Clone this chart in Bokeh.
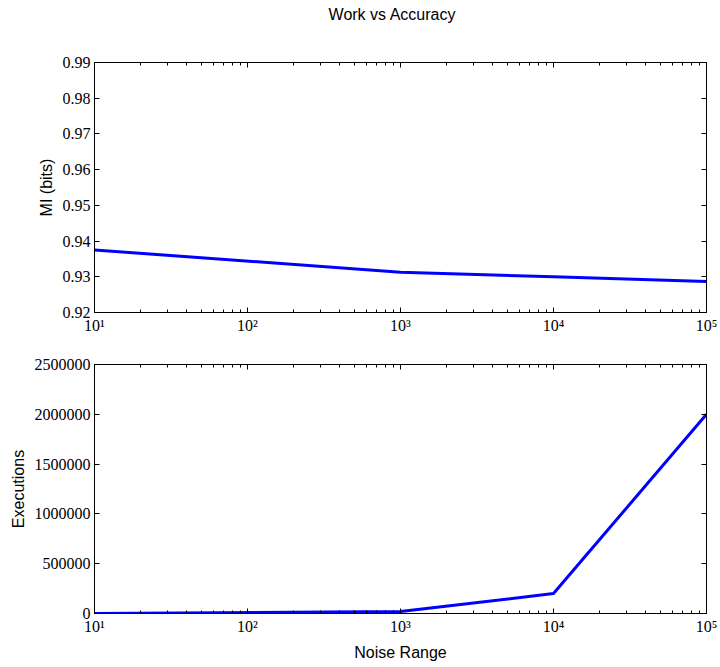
from bokeh.plotting import figure
from bokeh.models import Range1d, LogAxis, LinearAxis, FixedTicker, BasicTickFormatter, Div
from bokeh.layouts import column
from bokeh.embed import file_html
from bokeh.resources import INLINE

# ---- data ----
noise_range = [10, 1000, 10000, 100000]
mi_bits = [0.9375, 0.9313, 0.9300, 0.9287]
executions = [200, 20000, 200000, 2000000]

x_ticks = [10, 100, 1000, 10000, 100000]
x_tick_labels = ["10\u00b9", "10\u00b2", "10\u00b3", "10\u2074", "10\u2075"]
x_minor = [k * 10 ** e for e in range(1, 5) for k in range(2, 10)]
mi_ticks = [0.92, 0.93, 0.94, 0.95, 0.96, 0.97, 0.98, 0.99]
exec_ticks = [0, 500000, 1000000, 1500000, 2000000, 2500000]

SERIF = "Liberation Serif"
SANS = "Liberation Sans"
LINE_COLOR = "#0000ff"

LEFT = 94
RIGHT = 14


def style_axis(ax, show_labels=True):
    ax.major_tick_in = 5
    ax.major_tick_out = 0
    ax.minor_tick_in = 3
    ax.minor_tick_out = 0
    ax.axis_line_color = "black"
    ax.axis_line_width = 1
    ax.major_tick_line_color = "black"
    ax.minor_tick_line_color = "black"
    ax.major_label_text_font = SERIF
    ax.major_label_standoff = 4
    if show_labels:
        ax.major_label_text_font_size = "16px"
        ax.major_label_text_color = "black"
    else:
        ax.major_label_text_font_size = "1px"
        ax.major_label_text_color = None
        ax.major_label_standoff = 0
    ax.axis_label_text_font = SANS
    ax.axis_label_text_font_style = "normal"
    ax.axis_label_text_font_size = "16px"
    ax.axis_label_text_color = "black"


def make_panel(y_vals, y_ticks, y_range, y_label, height, b_top, b_bottom, x_label=None):
    p = figure(width=720, height=height, x_axis_type="log",
               x_range=Range1d(10, 100000), y_range=y_range,
               output_backend="svg", toolbar_location=None,
               min_border_left=LEFT, min_border_right=RIGHT,
               min_border_top=b_top, min_border_bottom=b_bottom)
    p.grid.visible = False
    p.outline_line_color = "black"
    p.background_fill_color = "white"
    p.border_fill_color = "white"

    xt = FixedTicker(ticks=x_ticks, minor_ticks=x_minor)
    yt = FixedTicker(ticks=y_ticks, minor_ticks=[])

    xa = p.xaxis[0]
    xa.ticker = xt
    xa.major_label_overrides = dict(zip(x_ticks, x_tick_labels))
    style_axis(xa)
    if x_label:
        xa.axis_label = x_label
        xa.axis_label_standoff = 6

    ya = p.yaxis[0]
    ya.ticker = yt
    ya.formatter = BasicTickFormatter(use_scientific=False)
    ya.axis_label = y_label
    style_axis(ya)
    ya.axis_label_standoff = 5

    top = LogAxis(ticker=xt)
    style_axis(top, show_labels=False)
    p.add_layout(top, "above")
    right = LinearAxis(ticker=yt)
    style_axis(right, show_labels=False)
    p.add_layout(right, "right")

    p.line(noise_range, y_vals, line_color=LINE_COLOR, line_width=3)
    return p


title = Div(text="Work vs Accuracy", width=720, height=30, margin=(0, 0, 0, 0),
            styles={"font-family": SANS, "font-size": "16px", "color": "black",
                    "text-align": "center", "line-height": "30px",
                    "padding-left": "64px", "box-sizing": "border-box"})

p1 = make_panel(mi_bits, mi_ticks, Range1d(0.92, 0.99), "MI (bits)",
                height=316, b_top=32, b_bottom=34)

p2 = make_panel(executions, exec_ticks, Range1d(0, 2500000), "Executions",
                height=317, b_top=18, b_bottom=47, x_label="Noise Range")

layout = column(title, p1, p2, spacing=0)

with open("out.html", "w") as f:
    f.write(file_html(layout, INLINE))
